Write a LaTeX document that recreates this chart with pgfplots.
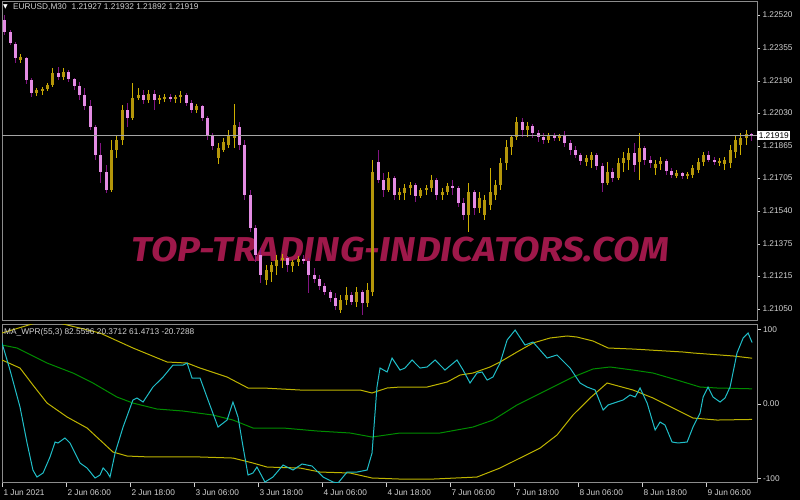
\documentclass[border=0pt]{standalone}
\usepackage{fontspec}
\setmainfont{Liberation Sans}
\newfontfamily\symfont{DejaVu Sans}
\newfontfamily\wmfont{Fira Sans}
\usepackage{pgfplots}
\usepackage{pgfplotstable}
\pgfplotsset{compat=1.18}

\definecolor{bullbody}{RGB}{180,150,10}
\definecolor{bullwick}{RGB}{205,175,0}
\definecolor{bearbody}{RGB}{228,140,228}
\definecolor{bearwick}{RGB}{130,20,130}
\definecolor{framegray}{RGB}{140,140,140}
\definecolor{labelgray}{RGB}{210,210,210}
\definecolor{pricegray}{RGB}{165,165,165}
\definecolor{wpr}{RGB}{32,190,200}
\definecolor{bandyellow}{RGB}{190,180,0}
\definecolor{midgreen}{RGB}{0,140,0}
\definecolor{watermark}{RGB}{158,24,74}

% EURUSD M30, one candle per two bars: bar index, open, high, low, close
\pgfplotstableread{
i o h l c
1 1.22495 1.22520 1.22420 1.22435
3 1.22435 1.22445 1.22370 1.22380
5 1.22375 1.22385 1.22280 1.22305
7 1.22295 1.22325 1.22280 1.22310
9 1.22305 1.22310 1.22175 1.22195
11 1.22195 1.22205 1.22110 1.22130
13 1.22130 1.22155 1.22115 1.22145
15 1.22145 1.22160 1.22120 1.22150
17 1.22150 1.22180 1.22140 1.22170
19 1.22170 1.22255 1.22160 1.22230
21 1.22230 1.22260 1.22195 1.22210
23 1.22210 1.22255 1.22195 1.22235
25 1.22235 1.22245 1.22185 1.22200
27 1.22200 1.22205 1.22145 1.22165
29 1.22165 1.22185 1.22095 1.22120
31 1.22120 1.22155 1.22045 1.22065
33 1.22065 1.22095 1.21945 1.21960
35 1.21960 1.21970 1.21795 1.21820
37 1.21820 1.21880 1.21680 1.21735
39 1.21735 1.21770 1.21630 1.21645
41 1.21645 1.21895 1.21635 1.21845
43 1.21845 1.21920 1.21805 1.21895
45 1.21895 1.22070 1.21870 1.22045
47 1.22045 1.22080 1.21960 1.22005
49 1.22005 1.22180 1.21995 1.22105
51 1.22105 1.22155 1.22095 1.22120
53 1.22120 1.22145 1.22075 1.22095
55 1.22095 1.22145 1.22080 1.22125
57 1.22125 1.22145 1.22045 1.22095
59 1.22095 1.22120 1.22075 1.22105
61 1.22105 1.22125 1.22085 1.22110
63 1.22110 1.22125 1.22085 1.22100
65 1.22100 1.22120 1.22080 1.22110
67 1.22110 1.22140 1.22080 1.22120
69 1.22120 1.22130 1.22065 1.22080
71 1.22080 1.22095 1.22030 1.22045
73 1.22045 1.22075 1.22030 1.22065
75 1.22065 1.22070 1.21990 1.22005
77 1.22005 1.22015 1.21895 1.21920
79 1.21920 1.21930 1.21845 1.21865
81 1.21805 1.21880 1.21775 1.21855
83 1.21845 1.21905 1.21835 1.21885
85 1.21870 1.21945 1.21855 1.21920
87 1.21905 1.22075 1.21855 1.21970
89 1.21960 1.21985 1.21845 1.21870
91 1.21870 1.21895 1.21595 1.21620
93 1.21620 1.21645 1.21435 1.21455
95 1.21455 1.21470 1.21285 1.21320
97 1.21320 1.21355 1.21180 1.21220
99 1.21195 1.21270 1.21170 1.21245
101 1.21235 1.21285 1.21185 1.21270
103 1.21265 1.21320 1.21220 1.21295
105 1.21295 1.21325 1.21255 1.21305
107 1.21305 1.21315 1.21235 1.21270
109 1.21265 1.21295 1.21235 1.21285
111 1.21285 1.21315 1.21265 1.21300
113 1.21300 1.21320 1.21275 1.21290
115 1.21290 1.21305 1.21130 1.21220
117 1.21220 1.21255 1.21180 1.21200
119 1.21200 1.21220 1.21145 1.21165
121 1.21165 1.21180 1.21120 1.21135
123 1.21135 1.21145 1.21085 1.21105
125 1.21105 1.21130 1.21045 1.21065
127 1.21045 1.21120 1.21030 1.21095
129 1.21095 1.21160 1.21070 1.21120
131 1.21120 1.21135 1.21070 1.21085
133 1.21085 1.21160 1.21060 1.21135
135 1.21135 1.21145 1.21020 1.21080
137 1.21080 1.21180 1.21060 1.21145
139 1.21135 1.21795 1.21115 1.21735
141 1.21785 1.21845 1.21680 1.21695
143 1.21695 1.21730 1.21610 1.21645
145 1.21645 1.21735 1.21635 1.21705
147 1.21705 1.21715 1.21595 1.21620
149 1.21620 1.21655 1.21595 1.21635
151 1.21630 1.21675 1.21595 1.21655
153 1.21655 1.21685 1.21620 1.21670
155 1.21670 1.21680 1.21585 1.21615
157 1.21615 1.21655 1.21605 1.21645
159 1.21645 1.21670 1.21620 1.21655
161 1.21655 1.21720 1.21635 1.21695
163 1.21695 1.21705 1.21595 1.21620
165 1.21620 1.21655 1.21595 1.21635
167 1.21635 1.21680 1.21620 1.21665
169 1.21665 1.21695 1.21620 1.21655
171 1.21655 1.21665 1.21560 1.21580
173 1.21580 1.21605 1.21495 1.21520
175 1.21520 1.21680 1.21435 1.21635
177 1.21635 1.21645 1.21520 1.21555
179 1.21555 1.21635 1.21530 1.21605
181 1.21520 1.21620 1.21495 1.21595
183 1.21570 1.21755 1.21545 1.21635
185 1.21620 1.21695 1.21595 1.21670
187 1.21670 1.21805 1.21645 1.21780
189 1.21780 1.21895 1.21745 1.21860
191 1.21860 1.21920 1.21820 1.21910
193 1.21910 1.22010 1.21895 1.21985
195 1.21985 1.22005 1.21910 1.21945
197 1.21945 1.21985 1.21910 1.21965
199 1.21965 1.21975 1.21905 1.21930
201 1.21930 1.21945 1.21885 1.21910
203 1.21910 1.21930 1.21875 1.21895
205 1.21895 1.21930 1.21880 1.21915
207 1.21915 1.21930 1.21890 1.21910
209 1.21910 1.21925 1.21890 1.21915
211 1.21915 1.21940 1.21860 1.21880
213 1.21880 1.21895 1.21820 1.21845
215 1.21845 1.21865 1.21805 1.21820
217 1.21820 1.21830 1.21770 1.21790
219 1.21785 1.21820 1.21765 1.21805
221 1.21795 1.21835 1.21755 1.21820
223 1.21820 1.21830 1.21745 1.21765
225 1.21765 1.21780 1.21635 1.21680
227 1.21680 1.21785 1.21670 1.21735
229 1.21735 1.21755 1.21685 1.21705
231 1.21705 1.21805 1.21695 1.21780
233 1.21780 1.21835 1.21735 1.21805
235 1.21795 1.21855 1.21745 1.21830
237 1.21830 1.21880 1.21735 1.21770
239 1.21785 1.21930 1.21695 1.21855
241 1.21855 1.21865 1.21770 1.21795
243 1.21795 1.21815 1.21755 1.21780
245 1.21755 1.21795 1.21720 1.21775
247 1.21775 1.21810 1.21745 1.21790
249 1.21790 1.21800 1.21720 1.21740
251 1.21740 1.21755 1.21705 1.21720
253 1.21715 1.21745 1.21705 1.21730
255 1.21730 1.21735 1.21700 1.21715
257 1.21715 1.21735 1.21700 1.21725
259 1.21720 1.21770 1.21705 1.21755
261 1.21745 1.21805 1.21730 1.21785
263 1.21785 1.21835 1.21765 1.21820
265 1.21820 1.21840 1.21785 1.21795
267 1.21795 1.21810 1.21770 1.21785
269 1.21785 1.21805 1.21765 1.21790
271 1.21775 1.21810 1.21745 1.21795
273 1.21780 1.21870 1.21755 1.21845
275 1.21835 1.21920 1.21805 1.21895
277 1.21870 1.21930 1.21820 1.21905
279 1.21905 1.21945 1.21870 1.21925
281 1.21927 1.21932 1.21892 1.21919
}\candles

\newcommand{\tickfont}{\fontsize{8.3bp}{10bp}\selectfont}

\begin{document}
\begin{tikzpicture}
\useasboundingbox (0,0) rectangle (800bp,500bp);
\fill[black] (0,0) rectangle (800bp,500bp);

% watermark, behind the candles
\node[text=watermark, inner sep=0] at (400.5bp,250.5bp)
  {\resizebox{537bp}{24.5bp}{\wmfont\bfseries\itshape TOP-TRADING-INDICATORS.COM}};

% --- price window ---
\begin{axis}[
    at={(2bp,179bp)}, anchor=south west,
    scale only axis, width=755bp, height=319bp,
    xmin=0, xmax=283.1,
    ymin=1.20990, ymax=1.22585,
    axis line style={draw=framegray, line width=1bp},
    xtick=\empty,
    ytick={1.21050,1.21215,1.21375,1.21540,1.21705,1.21865,1.22030,1.22190,1.22355,1.22520},
    yticklabels={1.21050,1.21215,1.21375,1.21540,1.21705,1.21865,1.22030,1.22190,1.22355,1.22520},
    ytick pos=right, yticklabel pos=right,
    tick align=outside, major tick length=3bp,
    tick style={draw=labelgray, line width=0.8bp},
    tick label style={font=\tickfont, text=labelgray},
    yticklabel style={anchor=west, xshift=-1bp},
    clip=false,
  ]
  % wicks
  \addplot[draw=none, mark=none,
    restrict expr to domain={\thisrow{c}-\thisrow{o}}{0:1},
    error bars/.cd, y dir=both, y explicit, error mark=none,
    error bar style={draw=bullwick, line width=1bp}]
    table[x=i, y expr={(\thisrow{h}+\thisrow{l})/2}, y error expr={(\thisrow{h}-\thisrow{l})/2}] {\candles};
  \addplot[draw=none, mark=none,
    restrict expr to domain={\thisrow{c}-\thisrow{o}}{-1:0},
    error bars/.cd, y dir=both, y explicit, error mark=none,
    error bar style={draw=bearwick, line width=1bp}]
    table[x=i, y expr={(\thisrow{h}+\thisrow{l})/2}, y error expr={(\thisrow{h}-\thisrow{l})/2}] {\candles};
  % bodies
  \addplot[draw=none, mark=none,
    restrict expr to domain={\thisrow{c}-\thisrow{o}}{0:1},
    error bars/.cd, y dir=both, y explicit, error mark=none,
    error bar style={draw=bullbody, line width=3bp}]
    table[x=i, y expr={(\thisrow{o}+\thisrow{c})/2}, y error expr={abs(\thisrow{c}-\thisrow{o})/2}] {\candles};
  \addplot[draw=none, mark=none,
    restrict expr to domain={\thisrow{c}-\thisrow{o}}{-1:0},
    error bars/.cd, y dir=both, y explicit, error mark=none,
    error bar style={draw=bearbody, line width=3bp}]
    table[x=i, y expr={(\thisrow{o}+\thisrow{c})/2}, y error expr={abs(\thisrow{c}-\thisrow{o})/2}] {\candles};
  % current price
  \addplot[pricegray, line width=0.8bp, mark=none] coordinates {(0,1.21919) (283.1,1.21919)};
  \node[fill=white, text=black, anchor=west, inner sep=1.6bp, font=\tickfont]
    at (axis cs:283.1,1.21919) {1.21919};
\end{axis}

% --- MA_WPR window ---
\begin{axis}[
    at={(2bp,17bp)}, anchor=south west,
    scale only axis, width=755bp, height=159bp,
    xmin=0, xmax=283.1,
    ymin=-106, ymax=107.4,
    axis line style={draw=framegray, line width=1bp},
    xtick={0,24,48,72,96,120,144,168,192,216,240,264},
    xticklabels={1 Jun 2021,2 Jun 06:00,2 Jun 18:00,3 Jun 06:00,3 Jun 18:00,4 Jun 06:00,
      4 Jun 18:00,7 Jun 06:00,7 Jun 18:00,8 Jun 06:00,8 Jun 18:00,9 Jun 06:00},
    ytick={-100,0,100}, yticklabels={-100,0.00,100},
    xtick pos=bottom, ytick pos=right, yticklabel pos=right,
    tick align=outside, major tick length=3.5bp,
    tick style={draw=labelgray, line width=0.8bp},
    tick label style={font=\tickfont, text=labelgray},
    xticklabel style={anchor=north west, xshift=-2bp},
    yticklabel style={anchor=west, xshift=-1bp},
    clip=true,
    every axis plot/.append style={line width=1bp, mark=none},
  ]
  % upper band
  \addplot[bandyellow] coordinates {
    (0,95.3) (11.25,107.4) (16.5,111.5) (22.9,107.4) (36.75,95.3) (49.1,75.2) (61.9,56.4)
    (69.4,55) (74.25,48.3) (84.4,36.2) (92.25,21.5) (97.9,21.5) (111.75,18.8) (134.25,18.8)
    (138.75,14.8) (144.4,21.5) (149.25,22.8) (159.4,22.8) (166.9,29.5) (171.75,38.9)
    (176.6,41.6) (183,49.7) (186.75,56.4) (193.1,69.8) (199.1,81.9) (205.5,88.6) (211.9,91.3)
    (215.6,89.9) (221.6,84.6) (227.25,75.2) (236.6,73.8) (255.4,69.8) (259.1,68.5)
    (268.1,66.1) (274.1,64.5) (281.25,61.5)
  };
  % middle
  \addplot[midgreen] coordinates {
    (0,79.2) (5.6,75.2) (16.9,55) (26.6,41.6) (34.1,28.2) (43.1,9.4) (49.1,1.3) (58.1,-6.7)
    (67.9,-9.4) (79.1,-14.8) (86.6,-21.5) (94.1,-32.2) (105.4,-32.2) (118.1,-36.2)
    (130.5,-38.9) (138.75,-44.3) (149.25,-38.9) (164.25,-38.9) (176.6,-30.9) (184.1,-21.5)
    (193.1,-1.3) (199.1,9.4) (206.6,22.8) (214.1,36.2) (221.6,47) (228,49.7) (236.6,45.6)
    (244.1,41.6) (253.1,32.2) (261.75,22.8) (268.1,21.5) (281.25,20.4)
  };
  % lower band
  \addplot[bandyellow] coordinates {
    (0,59.1) (6.75,48.3) (11.6,25.5) (16.9,1.3) (24.4,-17.4) (31.9,-32.2) (36.75,-48.3)
    (41.6,-64.4) (46.9,-69.8) (55.5,-71.1) (74.25,-71.1) (86.6,-72.5) (94.1,-79.2)
    (99.4,-84.6) (111.75,-85.9) (119.25,-91.3) (130.5,-92.6) (138.75,-99.3) (149.25,-100.7)
    (161.6,-100.7) (178.1,-98) (186.75,-85.9) (194.25,-72.5) (201.75,-59.1) (208.1,-41.6)
    (214.1,-14.8) (220.5,8.1) (226.9,28.2) (236.6,18.8) (244.1,8.1) (251.6,-5.4)
    (259.1,-18.8) (268.1,-21.5) (281.25,-20.7)
  };
  % smoothed WPR
  \addplot[wpr] coordinates {
    (0,81.9) (3,45.6) (6.75,-4) (9.4,-52.3) (11.6,-88.6) (13.1,-98) (15.4,-92.6) (18,-71.1)
    (19.9,-51) (21,-52.3) (23.6,-45.6) (25.5,-52.3) (29.25,-79.2) (31.9,-85.9) (34.9,-99.3)
    (36.75,-95.3) (37.9,-85.9) (39.4,-91.3) (40.5,-98) (42.4,-65.8) (45.4,-30.9) (49.1,5.4)
    (50.6,8.1) (52.9,2.7) (56.6,22.8) (60.4,36.2) (64.1,52.3) (67.9,52.3) (69.4,55)
    (71.25,34.9) (74.25,34.9) (77.25,5.4) (81,-30.9) (84.4,-21.5) (86.6,2.7) (88.5,-17.4)
    (90.4,-57.7) (92.25,-95.3) (94.1,-92.6) (95.6,-84.6) (98.6,-104.7) (101.6,-98)
    (105.4,-81.9) (109.1,-88.6) (112.5,-80.5) (116.25,-83.2) (120.4,-98) (124.1,-104.7)
    (126,-106) (129.4,-91.3) (133.1,-91.3) (136.9,-88.6) (138.75,-65.8) (140.6,22.8)
    (141.75,48.3) (144.4,43) (146.25,61.7) (149.25,45.6) (151.1,48.3) (153.75,59.1)
    (156.75,48.3) (159.4,49.7) (162.4,59.1) (166.1,45.6) (170.6,59.1) (172.9,45.6)
    (175.5,28.2) (178.1,41.6) (180,43) (181.9,32.2) (184.1,36.2) (186.75,55) (189.4,85.9)
    (192.4,99.3) (196.1,79.2) (199.1,83.2) (204.4,61.7) (208.1,65.8) (213,48.3)
    (216.75,28.2) (219.4,22.8) (222.4,18.8) (225.4,-8.1) (227.25,-1.3) (230.6,2.7)
    (232.9,5.4) (235.5,12.1) (237.4,9.4) (239.25,21.5) (241.9,1.3) (244.9,-34.9)
    (246.75,-24.2) (248.6,-28.2) (251.25,-51) (253.5,-52.3) (256.9,-51) (259.1,-30.9)
    (261.75,-12.1) (262.9,9.4) (264.75,22.8) (266.6,9.4) (269.25,2.7) (271.1,8.1) (273,22.8)
    (275.6,68.5) (277.9,88.6) (279.75,95.3) (281.25,82.6)
  };
\end{axis}

% window captions
\node[text=white, inner sep=0] at (5.5bp,493bp) {\symfont\fontsize{6bp}{6bp}\selectfont ▼};
\node[anchor=west, text=labelgray, inner sep=0] at (13bp,492.5bp)
  {\tickfont EURUSD,M30\hspace{5bp}1.21927 1.21932 1.21892 1.21919};
\node[anchor=west, text=labelgray, inner sep=0] at (4bp,168bp)
  {\tickfont MA\_WPR(55,3) 82.5596 20.3712 61.4713 -20.7288};
\end{tikzpicture}
\end{document}
